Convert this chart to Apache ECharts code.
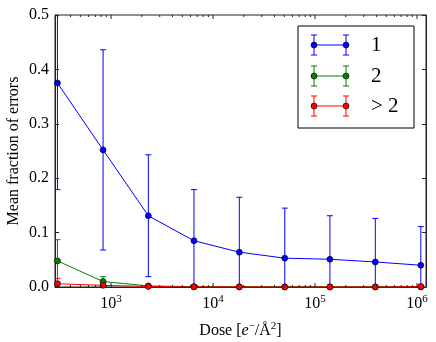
<!DOCTYPE html>
<html>
<head>
<meta charset="utf-8">
<script src="https://cdn.jsdelivr.net/npm/echarts@6/dist/echarts.min.js"></script>
<style>
  html, body { margin: 0; padding: 0; background: #fff; }
  #chart { width: 436px; height: 342px; }
</style>
</head>
<body>
<div id="chart"></div>
<script>
// dose values (e-/A^2)
const doses = [298, 835, 2320, 6500, 18100, 50500, 140000, 390000, 1090000];

// mean fraction of errors per group, with error bar half-heights
const one = [0.375, 0.252, 0.131, 0.085, 0.064, 0.053, 0.051, 0.046, 0.040];
const oneErr = [0.196, 0.184, 0.112, 0.094, 0.101, 0.092, 0.080, 0.080, 0.071];
const two = [0.048, 0.010, 0.002, 0.0005, 0.0003, 0.0002, 0.0002, 0.0002, 0.0002];
const twoErr = [0.039, 0.009, 0.002, 0.0005, 0.0003, 0.0002, 0.0002, 0.0002, 0.0002];
const more = [0.006, 0.003, 0.001, 0.0003, 0.0002, 0.0001, 0.0001, 0.0001, 0.001];
const moreErr = [0.010, 0.003, 0.001, 0.0003, 0.0002, 0.0001, 0.0001, 0.0001, 0.001];

const legendNames = ['1', '2', '> 2'];
const colors = ['#0000ff', '#008000', '#ff0000'];

const xMin = 282, xMax = 1225000;
const font = 'Liberation Serif';
const axisColor = '#222';

// tick positions for the log axis (1..9 x 10^k), long ticks on the decades
const minors = [];
for (let k = 2; k <= 6; k++) {
  for (let m = 1; m <= 9; m++) {
    const v = m * Math.pow(10, k);
    if (v > xMin && v < xMax) minors.push([v, m === 1 ? 4 : 2]);
  }
}

function errSeries(name, vals, errs, color) {
  return {
    type: 'custom',
    name: name,
    clip: true,
    silent: true,
    data: doses.map((d, i) => [d, vals[i] - errs[i], vals[i] + errs[i]]),
    renderItem: function (params, api) {
      const lo = api.coord([api.value(0), api.value(1)]);
      const hi = api.coord([api.value(0), api.value(2)]);
      const w = 3;
      const st = { stroke: color, lineWidth: 1 };
      return {
        type: 'group',
        children: [
          { type: 'line', shape: { x1: lo[0], y1: lo[1], x2: hi[0], y2: hi[1] }, style: st },
          { type: 'line', shape: { x1: lo[0] - w, y1: lo[1], x2: lo[0] + w, y2: lo[1] }, style: st },
          { type: 'line', shape: { x1: hi[0] - w, y1: hi[1], x2: hi[0] + w, y2: hi[1] }, style: st }
        ]
      };
    }
  };
}

function lineSeries(name, vals, color) {
  return {
    type: 'line',
    name: name,
    data: doses.map((d, i) => [d, vals[i]]),
    symbol: 'circle',
    symbolSize: 6,
    showSymbol: true,
    clip: true,
    lineStyle: { color: color, width: 1 },
    itemStyle: { color: color, borderColor: '#000', borderWidth: 0.6 },
    silent: true
  };
}

function sup(v) {
  const e = Math.log10(v);
  if (Math.abs(e - Math.round(e)) > 1e-6) return '';
  return '{b|10}{s|' + Math.round(e) + '}';
}

// legend drawn as graphic: box, sample lines with error bars, labels
function legendGraphic() {
  const els = [{
    type: 'rect', shape: { x: 298, y: 26, width: 116, height: 102 },
    style: { fill: '#fff', stroke: '#000', lineWidth: 1 }, z: 100
  }];
  const ys = [45, 76, 106];
  legendNames.forEach((n, i) => {
    const y = ys[i], c = colors[i];
    const st = { stroke: c, lineWidth: 1 };
    els.push({ type: 'line', shape: { x1: 314, y1: y, x2: 346, y2: y }, style: st, z: 101 });
    [314, 346].forEach(x => {
      els.push({ type: 'line', shape: { x1: x, y1: y - 10, x2: x, y2: y + 10 }, style: st, z: 101 });
      els.push({ type: 'line', shape: { x1: x - 3, y1: y - 10, x2: x + 3, y2: y - 10 }, style: st, z: 101 });
      els.push({ type: 'line', shape: { x1: x - 3, y1: y + 10, x2: x + 3, y2: y + 10 }, style: st, z: 101 });
      els.push({ type: 'circle', shape: { cx: x, cy: y, r: 3 }, style: { fill: c, stroke: '#000', lineWidth: 0.6 }, z: 102 });
    });
    els.push({
      type: 'text', x: 371, y: y, z: 101,
      style: { text: n, font: '21px "' + font + '"', fill: '#000', verticalAlign: 'middle', align: 'left' }
    });
  });
  return els;
}

const chart = echarts.init(document.getElementById('chart'), null, { renderer: 'canvas' });

const tickStyle = { inside: true, length: 4, lineStyle: { color: axisColor, width: 1 } };
const lineStyle = { show: true, onZero: false, lineStyle: { color: axisColor, width: 1 } };

chart.setOption({
  animation: false,
  backgroundColor: '#fff',
  grid: {
    left: 55, right: 10, top: 15, bottom: 55,
    containLabel: false,
    outerBoundsMode: 'none',
    show: true,
    borderColor: axisColor,
    borderWidth: 1,
    backgroundColor: 'transparent'
  },
  xAxis: {
    type: 'log',
    logBase: 10,
    min: xMin,
    max: xMax,
    position: 'bottom',
    axisLine: lineStyle,
    axisTick: { show: false },
    splitLine: { show: false },
    axisLabel: {
      margin: 7,
      showMinLabel: false,
      showMaxLabel: false,
      formatter: sup,
      rich: {
        b: { fontFamily: font, fontSize: 16, color: '#000' },
        s: { fontFamily: font, fontSize: 11, color: '#000', verticalAlign: 'bottom', padding: [0, 0, 8, 0] }
      }
    },
    name: '{n|Dose [}{i|e}{s|−}{n|/Å}{s|2}{n|]}',
    nameLocation: 'middle',
    nameGap: 34,
    nameMoveOverlap: false,
    nameTextStyle: {
      rich: {
        n: { fontFamily: font, fontSize: 16, color: '#000' },
        i: { fontFamily: font, fontSize: 16, fontStyle: 'italic', color: '#000' },
        s: { fontFamily: font, fontSize: 11, color: '#000', verticalAlign: 'bottom', padding: [0, 0, 8, 0] }
      }
    }
  },
  yAxis: [{
    type: 'value',
    min: 0,
    max: 0.5,
    interval: 0.1,
    position: 'left',
    axisLine: lineStyle,
    axisTick: tickStyle,
    splitLine: { show: false },
    axisLabel: {
      margin: 6,
      fontFamily: font,
      fontSize: 16,
      color: '#000',
      formatter: v => v.toFixed(1)
    },
    name: 'Mean fraction of errors',
    nameLocation: 'middle',
    nameGap: 33,
    nameMoveOverlap: false,
    nameTextStyle: { fontFamily: font, fontSize: 16, color: '#000' }
  }, {
    type: 'value',
    min: 0,
    max: 0.5,
    interval: 0.1,
    position: 'right',
    axisLine: lineStyle,
    axisTick: tickStyle,
    splitLine: { show: false },
    axisLabel: { show: false }
  }],
  series: [
    errSeries('1', one, oneErr, colors[0]),
    lineSeries('1', one, colors[0]),
    errSeries('2', two, twoErr, colors[1]),
    lineSeries('2', two, colors[1]),
    errSeries('> 2', more, moreErr, colors[2]),
    lineSeries('> 2', more, colors[2]),
    {
      // major and minor ticks of the log axis, bottom and top edges
      type: 'custom',
      silent: true,
      clip: false,
      z: 5,
      data: minors,
      renderItem: function (params, api) {
        const len = api.value(1);
        const b = api.coord([api.value(0), 0]);
        const t = api.coord([api.value(0), 0.5]);
        const st = { stroke: axisColor, lineWidth: 1 };
        return {
          type: 'group',
          children: [
            { type: 'line', shape: { x1: b[0], y1: b[1], x2: b[0], y2: b[1] - len }, style: st },
            { type: 'line', shape: { x1: t[0], y1: t[1], x2: t[0], y2: t[1] + len }, style: st }
          ]
        };
      }
    }
  ],
  graphic: legendGraphic()
});
</script>
</body>
</html>
